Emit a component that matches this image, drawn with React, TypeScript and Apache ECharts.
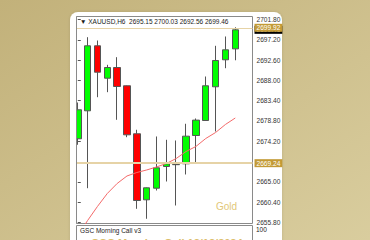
import React, { useEffect, useRef } from "react";
import * as echarts from "echarts";

const symbolName = "XAUUSD,H6";
const indicatorName = "GSC Morning Call v3";
const indicatorLevel = "100";
const watermark = "Gold";

const opens = [2674.77, 2681.11, 2695.84, 2688.5, 2690.92, 2686.78, 2675.9, 2660.94, 2663.57, 2668.49, 2668.9, 2669.1, 2675.51, 2678.91, 2686.55, 2692.67, 2695.15];
const closes = [2681.34, 2695.84, 2689.86, 2690.92, 2686.62, 2675.67, 2660.78, 2663.66, 2668.19, 2669.1, 2668.96, 2675.36, 2679.0, 2686.78, 2692.51, 2694.93, 2699.46];
const lows = [2673.41, 2663.57, 2684.19, 2685.33, 2679.07, 2675.13, 2658.9, 2656.64, 2663.05, 2665.09, 2659.65, 2666.68, 2669.33, 2678.91, 2676.42, 2690.76, 2692.56];
const highs = [2682.99, 2697.79, 2697.04, 2691.53, 2693.26, 2686.85, 2676.81, 2663.73, 2675.29, 2674.54, 2674.38, 2678.17, 2679.37, 2688.88, 2695.84, 2697.95, 2700.03];
const maValues = [2652.9, 2656.25, 2659.43, 2662.37, 2664.64, 2666.34, 2667.13, 2667.7, 2668.38, 2669.17, 2670.3, 2671.89, 2673.02, 2674.83, 2676.19, 2678.01, 2679.48];

// 2669.60 is hidden behind the 2669.24 price label in the reference
const yTicks = [2655.8, 2660.4, 2665.0, 2674.2, 2678.8, 2683.4, 2688.0, 2692.6, 2697.2, 2701.8];
const yMin = 2655.57;
const yMax = 2702.48;
const bidPrice = 2699.46;
const askPrice = 2699.92;
const levelPrice = 2669.24;

const FONT = "Liberation Sans";

export default function App() {
  const ref = useRef<HTMLDivElement>(null);
  useEffect(() => {
    if (!ref.current) return;
    const chart = echarts.init(ref.current, null, { renderer: "svg" });
    const n = opens.length;
    const candleData = opens.map((o, i) => [i, o, closes[i], lows[i], highs[i]]);
    const maData = maValues.map((v, i) => [i, v]);
    const last = n - 1;
    const header = `▼ ${symbolName}  ${opens[last].toFixed(2)} ${highs[last].toFixed(2)} ${lows[last].toFixed(2)} ${closes[last].toFixed(2)}`;

    const priceLabel = (bg: string) => ({
      show: true,
      position: "end" as const,
      distance: 2,
      formatter: (p: any) => Number(p.value).toFixed(2),
      backgroundColor: bg,
      color: "#ffffff",
      fontSize: 6.6,
      fontFamily: FONT,
      padding: [1, 2, 0, 2],
    });

    chart.setOption({
      animation: false,
      graphic: [
        {
          type: "rect",
          z: -20,
          silent: true,
          shape: { x: 0, y: 0, width: 370, height: 240 },
          style: {
            fill: new echarts.graphic.LinearGradient(0, 0, 1, 1, [
              { offset: 0, color: "#c2b17a" },
              { offset: 1, color: "#d9cd9e" },
            ]),
          },
        },
        {
          type: "rect",
          z: -19,
          silent: true,
          shape: { x: 70, y: 12, width: 212, height: 240, r: 8 },
          style: { fill: "#ffffff", shadowBlur: 3, shadowColor: "rgba(0,0,0,0.12)" },
        },
        {
          type: "rect",
          z: 40,
          silent: true,
          shape: { x: 71, y: 17, width: 5, height: 206 },
          style: { fill: "#ffffff" },
        },
        {
          type: "line",
          z: 41,
          silent: true,
          shape: { x1: 76.5, y1: 16.5, x2: 76.5, y2: 223.5 },
          style: { stroke: "#8a8a8a", lineWidth: 1 },
        },
        {
          type: "text",
          z: 50,
          left: 80,
          top: 17.5,
          style: { text: header, fontSize: 6.5, fontFamily: FONT, fill: "#1a1a1a" },
        },
        {
          type: "text",
          z: 50,
          left: 216,
          top: 201,
          style: { text: watermark, fontSize: 10, fontFamily: FONT, fill: "#e2c778" },
        },
        {
          type: "rect",
          z: 50,
          shape: { x: 76.5, y: 225.5, width: 176, height: 30 },
          style: { fill: "#ffffff", stroke: "#8a8a8a", lineWidth: 1 },
        },
        {
          type: "text",
          z: 51,
          left: 80,
          top: 227,
          style: { text: indicatorName, fontSize: 6.5, fontFamily: FONT, fill: "#1a1a1a" },
        },
        {
          type: "text",
          z: 51,
          left: 256,
          top: 226,
          style: { text: indicatorLevel, fontSize: 6.5, fontFamily: FONT, fill: "#1a1a1a" },
        },
        {
          type: "text",
          z: 51,
          left: 91,
          top: 237,
          style: { text: "GSC Morning Call 12/12/2024", fontSize: 11, fontWeight: "bold", fontFamily: FONT, fill: "#dcbe6a" },
        },
      ],
      grid: {
        left: 76.5,
        top: 16.5,
        width: 176,
        height: 207,
        show: true,
        backgroundColor: "#ffffff",
        borderColor: "#8a8a8a",
        borderWidth: 1,
      },
      xAxis: {
        type: "value",
        min: -0.13,
        max: 17.75,
        show: false,
      },
      yAxis: {
        type: "value",
        position: "right",
        min: yMin,
        max: yMax,
        splitLine: { show: false },
        axisLine: { show: false },
        axisTick: { show: true, length: 3, customValues: yTicks, lineStyle: { color: "#555" } },
        axisLabel: {
          customValues: yTicks,
          margin: 4,
          fontSize: 6.6,
          fontFamily: FONT,
          color: "#333333",
          formatter: (v: number) => v.toFixed(2),
        },
      },
      series: [
        {
          type: "candlestick",
          data: candleData,
          barWidth: 7,
          clip: true,
          itemStyle: {
            color: "#00ff00",
            color0: "#ff0000",
            borderColor: "#555555",
            borderColor0: "#555555",
            borderWidth: 1,
          },
          markLine: {
            silent: true,
            symbol: ["none", "none"],
            precision: 2,
            data: [
              { yAxis: bidPrice, lineStyle: { color: "rgba(0,0,0,0)", width: 1, type: "solid" }, label: priceLabel("#000000") },
              { yAxis: askPrice, lineStyle: { color: "#e6d3a6", width: 1, type: "solid" }, label: priceLabel("#c39a35") },
              { yAxis: levelPrice, lineStyle: { color: "#e6d3a6", width: 2, type: "solid" }, label: priceLabel("#c39a35") },
            ],
          },
        },
        {
          type: "line",
          data: maData,
          symbol: "none",
          clip: true,
          z: 3,
          lineStyle: { color: "#f46a6a", width: 1 },
        },
      ],
    });
    return () => chart.dispose();
  }, []);
  return <div ref={ref} style={{ position: "absolute", left: 0, top: 0, width: 370, height: 240 }} />;
}
